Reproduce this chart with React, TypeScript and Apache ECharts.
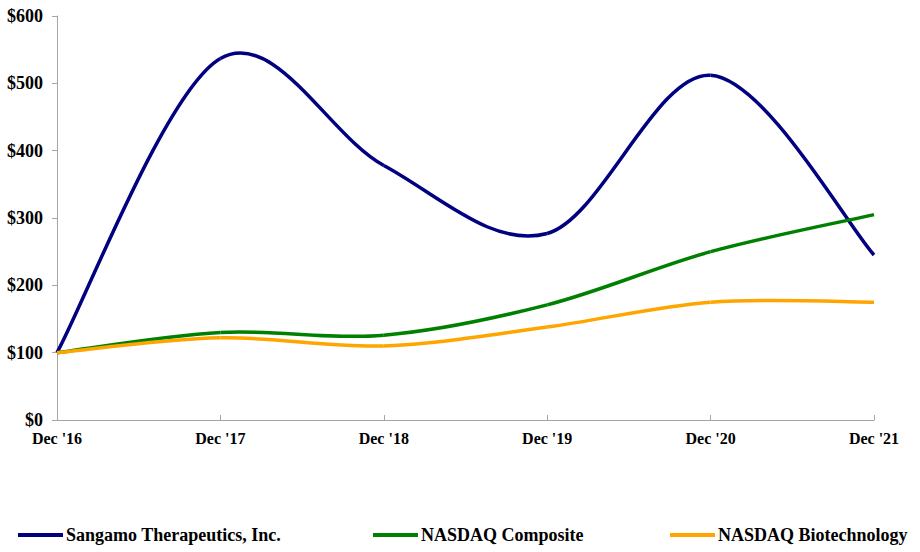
import React, { useEffect, useRef } from "react";
import * as echarts from "echarts";

const categories = ["Dec '16", "Dec '17", "Dec '18", "Dec '19", "Dec '20", "Dec '21"];
const sangamo = [100, 537, 378, 277, 512, 245];
const nasdaqComposite = [100, 130, 126, 171, 250, 305];
const nasdaqBiotech = [100, 122, 110, 138, 175, 175];
const yTicks = [0, 100, 200, 300, 400, 500, 600];

const FONT = "Liberation Serif";

function smoothSeries(name: string, values: number[], color: string) {
  const n = values.length;
  const cl = (k: number) => Math.max(0, Math.min(n - 1, k));
  return {
    name,
    type: "custom",
    coordinateSystem: "cartesian2d",
    data: values.map((v, i) => [i, v]),
    encode: { x: 0, y: 1 },
    itemStyle: { color },
    clip: false,
    renderItem: (params: any, api: any) => {
      const i = params.dataIndex;
      if (i >= n - 1) return { type: "group", children: [] };
      const p = (k: number) => api.coord([cl(k), values[cl(k)]]);
      const p0 = p(i - 1), p1 = p(i), p2 = p(i + 1), p3 = p(i + 2);
      return {
        type: "bezierCurve",
        shape: {
          x1: p1[0],
          y1: p1[1],
          cpx1: p1[0] + (p2[0] - p0[0]) / 6,
          cpy1: p1[1] + (p2[1] - p0[1]) / 6,
          cpx2: p2[0] - (p3[0] - p1[0]) / 6,
          cpy2: p2[1] - (p3[1] - p1[1]) / 6,
          x2: p2[0],
          y2: p2[1],
        },
        style: { stroke: color, lineWidth: 3.5, fill: null },
      };
    },
  };
}

export default function App() {
  const ref = useRef<HTMLDivElement>(null);
  useEffect(() => {
    if (!ref.current) return;
    const chart = echarts.init(ref.current, undefined, { renderer: "svg" });
    const mkLegend = (name: string, left: number) => ({
      data: [name],
      left,
      top: 526,
      padding: 0,
      icon: "rect",
      itemWidth: 45,
      itemHeight: 4,
      itemGap: 0,
      textStyle: { fontFamily: FONT, fontWeight: "bold", fontSize: 18, color: "#000", padding: [0, 0, 0, -2] },
      selectedMode: false,
    });
    chart.setOption({
      animation: false,
      backgroundColor: "#fff",
      grid: { left: 57, right: 46, top: 16, bottom: 132, containLabel: false },
      legend: [
        mkLegend("Sangamo Therapeutics, Inc.", 18),
        mkLegend("NASDAQ Composite", 373),
        mkLegend("NASDAQ Biotechnology", 670),
      ],
      xAxis: {
        type: "category",
        data: categories,
        boundaryGap: false,
        axisLine: { lineStyle: { color: "#a6a6a6", width: 1 } },
        axisTick: { inside: true, length: 5, lineStyle: { color: "#a6a6a6" } },
        axisLabel: { fontFamily: FONT, fontWeight: "bold", fontSize: 16, color: "#000", margin: 10 },
        splitLine: { show: false },
      },
      yAxis: {
        type: "value",
        min: yTicks[0],
        max: yTicks[yTicks.length - 1],
        interval: 100,
        axisLine: { show: true, lineStyle: { color: "#a6a6a6", width: 1 } },
        axisTick: { show: true, length: 5, lineStyle: { color: "#a6a6a6" } },
        axisLabel: {
          fontFamily: FONT,
          fontWeight: "bold",
          fontSize: 18,
          color: "#000",
          margin: 14,
          formatter: (v: number) => "$" + v,
        },
        splitLine: { show: false },
      },
      series: [
        smoothSeries("Sangamo Therapeutics, Inc.", sangamo, "#000080"),
        smoothSeries("NASDAQ Composite", nasdaqComposite, "#008000"),
        smoothSeries("NASDAQ Biotechnology", nasdaqBiotech, "#FFA500"),
      ],
    });
    return () => chart.dispose();
  }, []);
  return <div ref={ref} style={{ width: 920, height: 552, position: "absolute", left: 0, top: 0 }} />;
}
